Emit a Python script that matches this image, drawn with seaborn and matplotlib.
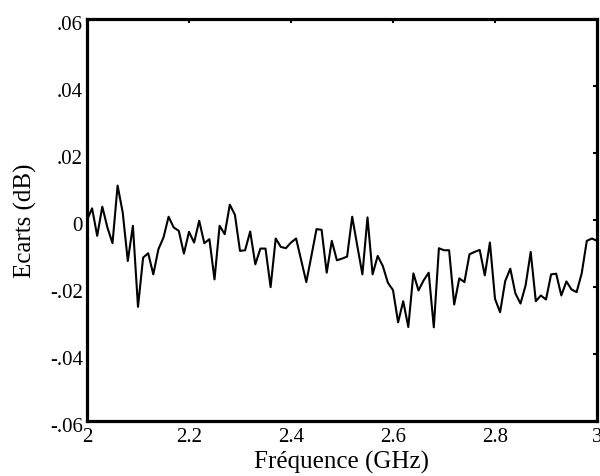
import matplotlib
matplotlib.use("Agg")
import matplotlib.pyplot as plt
import matplotlib.transforms as mtransforms
import seaborn as sns
import pandas as pd

freq_ghz = [2.00, 2.01, 2.02, 2.03, 2.04, 2.05, 2.06, 2.07, 2.08, 2.09,
            2.10, 2.11, 2.12, 2.13, 2.14, 2.15, 2.16, 2.17, 2.18, 2.19,
            2.20, 2.21, 2.22, 2.23, 2.24, 2.25, 2.26, 2.27, 2.28, 2.29,
            2.30, 2.31, 2.32, 2.33, 2.34, 2.35, 2.36, 2.37, 2.38, 2.39,
            2.40, 2.41, 2.42, 2.43, 2.44, 2.45, 2.46, 2.47, 2.48, 2.49,
            2.50, 2.51, 2.52, 2.53, 2.54, 2.55, 2.56, 2.57, 2.58, 2.59,
            2.60, 2.61, 2.62, 2.63, 2.64, 2.65, 2.66, 2.67, 2.68, 2.69,
            2.70, 2.71, 2.72, 2.73, 2.74, 2.75, 2.76, 2.77, 2.78, 2.79,
            2.80, 2.81, 2.82, 2.83, 2.84, 2.85, 2.86, 2.87, 2.88, 2.89,
            2.90, 2.91, 2.92, 2.93, 2.94, 2.95, 2.96, 2.97, 2.98, 2.99,
            3.00]

ecarts_db = [0.0000, 0.0035, -0.0047, 0.0040, -0.0022, -0.0069, 0.0103, 0.0023, -0.0122, -0.0017,
             -0.0259, -0.0112, -0.0099, -0.0162, -0.0087, -0.0052, 0.0010, -0.0022, -0.0032, -0.0100,
             -0.0035, -0.0067, -0.0002, -0.0069, -0.0057, -0.0177, -0.0017, -0.0042, 0.0046, 0.0016,
             -0.0092, -0.0090, -0.0034, -0.0132, -0.0085, -0.0085, -0.0200, -0.0055, -0.0080, -0.0084,
             -0.0067, -0.0055, -0.0120, -0.0185, -0.0107, -0.0027, -0.0029, -0.0157, -0.0062, -0.0120,
             -0.0115, -0.0109, 0.0010, -0.0077, -0.0162, 0.0008, -0.0162, -0.0107, -0.0137, -0.0187,
             -0.0209, -0.0305, -0.0242, -0.0319, -0.0159, -0.0210, -0.0180, -0.0157, -0.0320, -0.0084,
             -0.0090, -0.0090, -0.0252, -0.0174, -0.0185, -0.0102, -0.0095, -0.0089, -0.0165, -0.0067,
             -0.0235, -0.0275, -0.0182, -0.0145, -0.0219, -0.0249, -0.0195, -0.0095, -0.0242, -0.0225,
             -0.0237, -0.0162, -0.0160, -0.0225, -0.0183, -0.0207, -0.0215, -0.0159, -0.0062, -0.0055,
             -0.0062]

x_ticks = [2.0, 2.2, 2.4, 2.6, 2.8, 3.0]
x_tick_labels = ["2", "2.2", "2.4", "2.6", "2.8", "3"]
y_ticks = [-0.06, -0.04, -0.02, 0.0, 0.02, 0.04, 0.06]
y_tick_labels = ["-.06", "-.04", "-.02", "0", ".02", ".04", ".06"]

sns.set_theme(style="white")
plt.rcParams["font.family"] = ["Liberation Serif", "DejaVu Serif"]

df = pd.DataFrame({"freq": freq_ghz, "ecart": ecarts_db})

fig = plt.figure(figsize=(6.0, 4.77), dpi=100)
ax = fig.add_axes([0.145, 0.115, 0.850, 0.843])
sns.lineplot(data=df, x="freq", y="ecart", ax=ax, color="black", linewidth=1.5)

ax.set_xlim(2.0, 3.0)
ax.set_ylim(-0.06, 0.06)
ax.set_xticks(x_ticks)
ax.set_xticklabels(x_tick_labels)
ax.set_yticks(y_ticks)
ax.set_yticklabels(y_tick_labels)
ax.tick_params(direction="in", length=3, width=1.5, top=True, right=True,
               labelsize=15, colors="black", pad=3)
ax.tick_params(axis="x", pad=4)
shift = mtransforms.ScaledTranslation(0, -2 / 72, fig.dpi_scale_trans)
for lab in ax.get_yticklabels():
    lab.set_transform(lab.get_transform() + shift)
for s in ax.spines.values():
    s.set_linewidth(2.3)
    s.set_color("black")

ax.set_xlabel("Fréquence (GHz)", fontsize=18, labelpad=3, color="black")
ax.set_ylabel("Ecarts (dB)", fontsize=18, labelpad=9, color="black")

fig.savefig("out.png", dpi=100)
